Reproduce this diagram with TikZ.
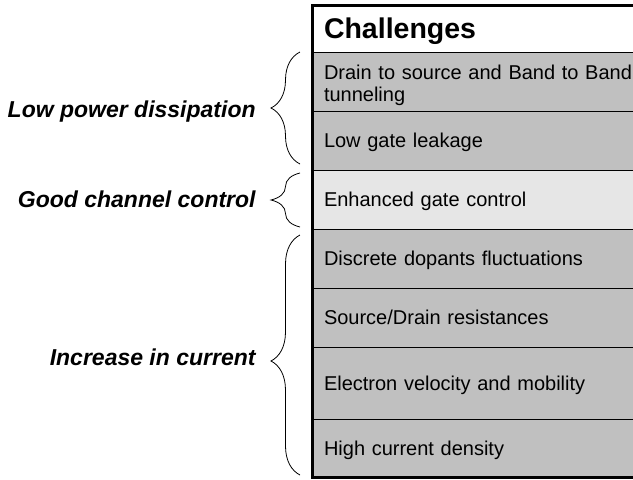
\documentclass[tikz,border=0pt]{standalone}
\usepackage{fontspec}
\setmainfont{Liberation Sans}
\usetikzlibrary{positioning,calc,decorations.pathreplacing}
\definecolor{rowgray}{HTML}{C0C0C0}
\definecolor{rowlight}{HTML}{E6E6E6}

\begin{document}
\begin{tikzpicture}[x=1pt,y=-1pt,
  rowbox/.style={draw=black,line width=1pt,minimum width=340pt,text width=316pt,
    align=left,inner xsep=12pt,inner ysep=0pt,outer sep=0pt,font=\fontsize{20}{22}\selectfont},
  hdbox/.style={draw=black,line width=1pt,fill=white,minimum width=340pt,minimum height=47pt,text width=316pt,
    text depth=0pt,align=left,inner xsep=12pt,outer sep=0pt,anchor=north west,font=\fontsize{28.5}{30}\selectfont\bfseries},
  brc/.style={decorate,decoration={brace,amplitude=29pt,#1},line width=0.8pt},
  brc/.default={aspect=0.5},
  sidelabel/.style={left=44pt,inner sep=0pt,text depth=0pt,font=\fontsize{23}{26}\selectfont\bfseries\itshape}]
  \clip (0,0) rectangle (633,480);
  % table of challenges, header then rows stacked downwards
  \node[hdbox] (hd) at (312,5) {Challenges};
  \foreach \nm/\prev/\h/\dep/\col/\txt in {
      r1/hd/59/18.5/rowgray/{Drain to source and Band to Band\\tunneling},
      r2/r1/59/0/rowgray/{Low gate leakage},
      r3/r2/59/0/rowlight/{Enhanced gate control},
      r4/r3/59/0/rowgray/{Discrete dopants fluctuations},
      r5/r4/59/0/rowgray/{Source/Drain resistances},
      r6/r5/72/0/rowgray/{Electron velocity and mobility},
      r7/r6/58/0/rowgray/{High current density}}{
    \node[rowbox,fill=\col,minimum height=\h pt,text depth=\dep pt,below=0pt of \prev] (\nm) {\txt};
  }
  \draw[line width=3pt] (hd.north east) -- (hd.north west) -- (r7.south west) -- (r7.south east);
  % braces grouping the rows
  \draw[brc] ($(r2.south west)+(-12,-6)$) -- node[sidelabel,pos=0.49] {Low power dissipation} ($(r1.north west)+(-12,0)$);
  \draw[brc] ($(r3.south west)+(-12,-2)$) -- node[sidelabel,pos=0.52] {Good channel control} ($(r3.north west)+(-12,3)$);
  \draw[brc={aspect=0.475}] ($(r7.south west)+(-12,-2)$) -- node[sidelabel,pos=0.49] {Increase in current} ($(r4.north west)+(-12,6)$);
\end{tikzpicture}
\end{document}
